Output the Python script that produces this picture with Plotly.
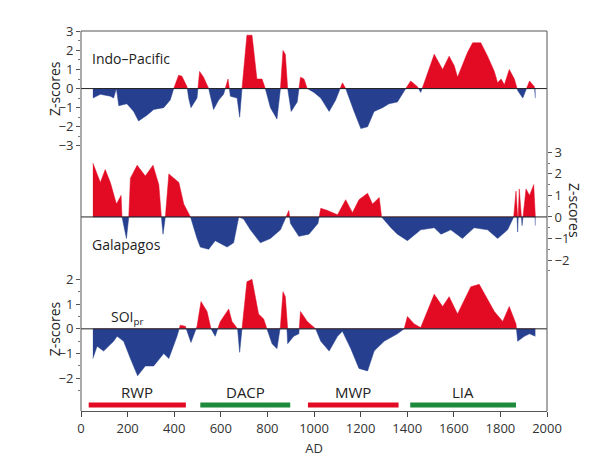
import plotly.graph_objects as go

RED = "#E30A24"
BLUE = "#26408F"

# Indo-Pacific z-scores
ip_year = [51, 83, 126, 140, 152, 162, 197, 226, 247, 283, 312, 355, 383, 398, 419, 433, 455, 462, 472, 498,
           509, 526, 548, 569, 591, 612, 631, 641, 670, 681, 691, 712, 734, 755, 777, 791, 813, 841, 856, 867,
           877, 887, 902, 928, 942, 957, 971, 1000, 1029, 1065, 1093, 1122, 1136, 1172, 1201, 1230, 1258, 1294,
           1322, 1358, 1394, 1415, 1444, 1458, 1473, 1516, 1552, 1580, 1602, 1616, 1659, 1681, 1716, 1745, 1774,
           1788, 1803, 1817, 1838, 1860, 1874, 1896, 1925, 1946, 1950]
ip_val = [-0.5, -0.3, -0.4, -0.5, 0.0, -0.9, -0.8, -1.2, -1.7, -1.4, -1.1, -1.0, -0.6, 0.0, 0.7, 0.65, 0.1, -0.5, -1.0, -0.5,
          0.9, 0.6, 0.0, -1.1, -0.6, -0.3, 0.5, -0.4, -0.5, -1.5, 0.0, 2.8, 2.8, 0.5, 0.5, 0.0, -1.0, -1.6, 0.0, 2.0,
          1.8, 0.0, -1.2, -0.7, 0.6, 0.5, 0.0, -0.2, -0.5, -1.2, -0.6, 0.3, 0.0, -1.2, -2.1, -2.0, -1.2, -1.0,
          -0.8, -0.7, 0.0, 0.4, 0.1, -0.2, 0.3, 1.8, 1.0, 1.7, 1.2, 0.6, 1.9, 2.4, 2.4, 1.7, 0.9,
          0.3, 0.5, 0.2, 1.0, 0.5, -0.1, -0.5, 0.4, 0.1, -0.5]

# Galapagos z-scores
ga_year = [51, 83, 104, 126, 152, 172, 176, 195, 205, 212, 241, 276, 309, 334, 345, 352, 362, 377, 420, 441,
           470, 498, 512, 548, 576, 627, 655, 677, 698, 727, 770, 813, 856, 892, 899, 935, 978, 1017, 1029, 1058,
           1101, 1136, 1165, 1193, 1230, 1251, 1280, 1290, 1330, 1358, 1401, 1458, 1516, 1545, 1587, 1637, 1687,
           1745, 1788, 1831, 1857, 1867, 1874, 1881, 1893, 1910, 1925, 1943, 1950]
ga_val = [2.5, 1.6, 2.2, 1.6, 0.6, 1.0, 0.0, -1.0, 0.0, 1.8, 2.4, 1.9, 2.4, 1.5, 0.0, -0.8, 0.0, 2.0, 1.6, 0.6,
          0.0, -1.0, -1.4, -1.5, -1.1, -1.4, -1.2, 0.0, -0.1, -0.6, -1.2, -1.0, -0.6, 0.3, -0.3, -0.9, -0.8, -0.3, 0.4, 0.3,
          0.1, 0.8, 0.2, 0.8, 1.1, 0.6, 0.9, 0.0, -0.5, -0.8, -1.1, -0.6, -0.5, -0.8, -0.6, -1.0, -0.5,
          -0.6, -1.0, -0.6, 0.0, 1.2, -0.7, 1.3, -0.4, 1.3, 1.0, 1.5, -0.4]

# SOIpr z-scores
soi_year = [51, 69, 97, 140, 155, 183, 212, 243, 276, 312, 355, 377, 412, 426, 448, 472, 498, 515, 541, 558,
            576, 598, 634, 648, 672, 681, 691, 712, 734, 762, 784, 798, 820, 841, 856, 867, 877, 887, 913, 935,
            942, 971, 1007, 1029, 1065, 1101, 1122, 1158, 1193, 1230, 1258, 1301, 1358, 1387, 1401, 1430, 1458,
            1516, 1552, 1580, 1616, 1673, 1709, 1745, 1774, 1810, 1838, 1867, 1874, 1903, 1925, 1950]
soi_val = [-1.2, -0.7, -0.9, -0.5, -0.3, -0.5, -1.2, -1.9, -1.5, -1.5, -1.0, -1.2, -0.3, 0.15, 0.1, -0.55, 0.1, 1.1, 0.7, 0.0,
           -0.3, 0.3, 0.8, 0.3, 0.0, -0.95, 0.0, 1.9, 2.0, 0.6, 0.4, 0.0, -0.6, -0.8, 0.1, 1.5, 1.3, -0.6, -0.3, -0.2,
           0.7, 0.3, 0.0, -0.5, -0.9, -0.3, -0.1, -0.8, -1.6, -1.7, -0.9, -0.5, -0.2, 0.0, 0.5, 0.2, 0.05,
           1.4, 0.9, 1.3, 0.6, 1.7, 1.8, 1.2, 0.7, 0.3, 0.9, 0.2, -0.5, -0.3, -0.2, -0.3]

periods = ["RWP", "DACP", "MWP", "LIA"]
period_start = [33, 512, 974, 1413]
period_end = [450, 898, 1363, 1867]
period_color = [RED, "#1E8A3C", RED, "#1E8A3C"]


def split(xs, ys):
    # insert zero crossings so positive / negative fills meet at 0
    px, py = [], []
    for i in range(len(xs)):
        if i > 0 and ys[i - 1] * ys[i] < 0:
            x0 = xs[i - 1] + (xs[i] - xs[i - 1]) * ys[i - 1] / (ys[i - 1] - ys[i])
            px.append(x0)
            py.append(0.0)
        px.append(xs[i])
        py.append(ys[i])
    pos = [max(v, 0) for v in py]
    neg = [min(v, 0) for v in py]
    return px, pos, neg


fig = go.Figure()
for xs, ys, ax in [(ip_year, ip_val, "y"), (ga_year, ga_val, "y2"), (soi_year, soi_val, "y3")]:
    px_, pos, neg = split(xs, ys)
    fig.add_trace(go.Scatter(x=px_, y=pos, yaxis=ax, fill="tozeroy", fillcolor=RED, mode="lines",
                             line=dict(width=0.5, color=RED), showlegend=False))
    fig.add_trace(go.Scatter(x=px_, y=neg, yaxis=ax, fill="tozeroy", fillcolor=BLUE, mode="lines",
                             line=dict(width=0.5, color=BLUE), showlegend=False))
    fig.add_trace(go.Scatter(x=[0, 2000], y=[0, 0], yaxis=ax, mode="lines",
                             line=dict(width=1, color="#222"), showlegend=False))

for name, s, e, c in zip(periods, period_start, period_end, period_color):
    fig.add_trace(go.Scatter(x=[s, e], y=[-3.08, -3.08], yaxis="y3", mode="lines",
                             line=dict(width=5, color=c), showlegend=False))
    fig.add_annotation(x=(s + e) / 2, y=-2.55, yref="y3", text=name, showarrow=False,
                       font=dict(size=15, color="#222"))

font = dict(family="Open Sans", size=13, color="#333")
yax = dict(showgrid=False, zeroline=False, ticks="outside", ticklen=4, tickcolor="#555",
           tickfont=font, showline=False)
minor = dict(dtick=0.5, ticks="outside", ticklen=2, tickcolor="#777")
fig.update_layout(
    width=600, height=473, margin=dict(l=73, r=61, t=23, b=70),
    plot_bgcolor="white", paper_bgcolor="white",
    xaxis=dict(range=[0, 2000], dtick=200, ticks="outside", ticklen=5, showgrid=False, zeroline=False,
               anchor="y3", showline=True, linecolor="#555", tickfont=font,
               title=dict(text="AD", font=dict(family="Open Sans", size=13, color="#333"), standoff=8)),
    yaxis=dict(domain=[0.697, 1.0], range=[-3.02, 3.02], dtick=1, anchor="x", minor=minor, **yax),
    yaxis2=dict(domain=[0.369, 0.692], range=[-2.5, 3.2], dtick=1, side="right", anchor="x",
                minor=minor, **yax),
    yaxis3=dict(domain=[0.0, 0.379], range=[-3.32, 2.5], tickvals=[-2, -1, 0, 1, 2], anchor="x",
                minor=dict(tickvals=[-2.5, -1.5, -0.5, 0.5, 1.5], ticks="outside", ticklen=2, tickcolor="#777"),
                **yax),
)
for x0, x1, y0, y1 in [(0, 0, 0, 1), (1, 1, 0, 1), (0, 1, 1, 1)]:
    fig.add_shape(type="line", xref="paper", yref="paper", x0=x0, x1=x1, y0=y0, y1=y1,
                  line=dict(color="#555", width=1))

lab = dict(family="Open Sans", size=14, color="#222")
fig.add_annotation(x=0.02, xref="paper", y=1.6, yref="y", text="Indo–Pacific", showarrow=False,
                   xanchor="left", font=lab)
fig.add_annotation(x=0.02, xref="paper", y=-1.3, yref="y2", text="Galapagos", showarrow=False,
                   xanchor="left", font=lab)
fig.add_annotation(x=0.06, xref="paper", y=0.45, yref="y3", text="SOI<sub>pr</sub>", showarrow=False,
                   xanchor="left", font=lab)
zf = dict(family="Open Sans", size=14, color="#222")
pw = 600 - 73 - 61
fig.add_annotation(x=(35 - 73) / pw, xref="paper", y=0, yref="y", text="Z-scores", textangle=-90,
                   showarrow=False, font=zf)
fig.add_annotation(x=(35 - 73) / pw, xref="paper", y=0, yref="y3", text="Z-scores", textangle=-90,
                   showarrow=False, font=zf)
fig.add_annotation(x=(578 - 73) / pw, xref="paper", y=0.3, yref="y2", text="Z-scores", textangle=90,
                   showarrow=False, font=zf)

fig.write_html("out.html")
